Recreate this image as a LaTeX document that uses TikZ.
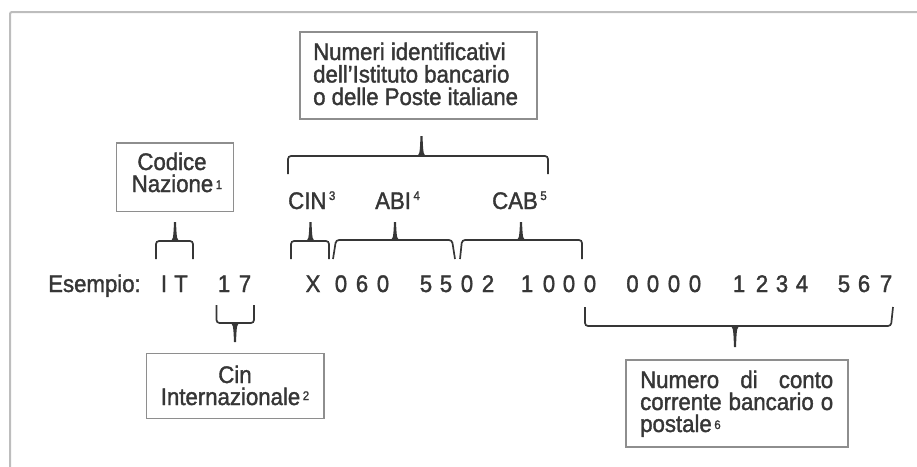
\documentclass[tikz,border=0pt]{standalone}
\usepackage{fontspec}
\setmainfont{Liberation Sans}[FakeStretch=0.925,FakeBold=1.5]
\definecolor{ink}{HTML}{363636}
\definecolor{framec}{HTML}{BDBDBD}
\definecolor{boxline}{HTML}{8E8E8E}
\newcommand\supn[2]{\hspace{2.5pt}\raisebox{#1pt}{\fontsize{12.5}{12.5}\selectfont #2}}
% brace: x1bottom, x1top, x2top, x2bottom, px, yend, yh, ypeak
\newcommand\ubrace[8]{%
  \draw[bracepath] (#1,#6) -- (#2,#7) -- (#3,#7) -- (#4,#6);
  \fill[ink] (#5-6,#7+0.7) .. controls (#5-1.8,#7-1) .. (#5-1,#8) -- (#5+1,#8) .. controls (#5+1.8,#7-1) .. (#5+6,#7+0.7) -- cycle;}
\newcommand\dbrace[8]{%
  \draw[bracepath] (#1,#6) -- (#2,#7) -- (#3,#7) -- (#4,#6);
  \fill[ink] (#5-6,#7-0.7) .. controls (#5-1.8,#7+1) .. (#5-1,#8) -- (#5+1,#8) .. controls (#5+1.8,#7+1) .. (#5+6,#7-0.7) -- cycle;}
\tikzset{
  lbl/.style={font=\fontsize{24}{22.5}\selectfont, text=ink, inner sep=0pt, anchor=base},
  infobox/.style={draw=boxline, line width=1.2pt, inner sep=0pt, rectangle},
  bracepath/.style={draw=ink, line width=1.7pt, rounded corners=3pt},
  framestyle/.style={draw=framec, line width=2pt, rounded corners=2pt},
}
\begin{document}
\begin{tikzpicture}[x=1pt,y=-1pt]
\useasboundingbox (0,0) rectangle (917,466);
\draw[framestyle] (10,470) -- (10,12) -- (921,12);

% top box
\node[infobox, minimum width=237pt, minimum height=87pt] (idbox) at (418.5,75.5) {};
\node[lbl, anchor=base west] (id1) at (313,60) {Numeri identificativi};
\node[lbl, anchor=base west] (id2) at (313,82.5) {dell'Istituto bancario};
\node[lbl, anchor=base west] (id3) at (313,105) {o delle Poste italiane};
\ubrace{288}{288}{548}{548}{421.5}{174}{156}{136}

% Codice Nazione
\node[infobox, minimum width=117.5pt, minimum height=68.5pt] (cnbox) at (175,177.3) {};
\node[lbl] (cn1) at (172,170) {Codice};
\node[lbl] (cn2) at (177,192) {Nazione\supn{3}{1}};

% CIN ABI CAB
\node[lbl, anchor=base west] (cin) at (288,209) {CIN\supn{9}{3}};
\node[lbl, anchor=base west] (abi) at (375,209) {ABI\supn{9}{4}};
\node[lbl, anchor=base west] (cab) at (492,209) {CAB\supn{9}{5}};

\ubrace{156}{156}{193}{193}{175}{259}{241}{222}
\ubrace{291}{291}{329}{329}{310.5}{259}{241}{222}
\ubrace{333}{336}{452}{455}{395}{259}{240}{222}
\ubrace{460}{462}{582}{582}{521}{259}{240}{222}

% example line
\node[lbl, anchor=base west] (es) at (48,292) {Esempio:};
\foreach \xx/\ch [count=\i] in {164/I,181/T,224/1,245/7,313/X,341/0,362/6,383/0,426/5,446/5,467/0,488/2,527/1,549/0,569/0,590/0,632.5/0,653/0,674/0,695/0,739/1,762/2,782/3,802/4,844/5,864/6,886/7}
  \node[lbl] (c\i) at (\xx,292) {\ch};

% 17 brace and Cin box
\dbrace{216.5}{216.5}{254}{254}{235}{305}{323}{342}
\node[infobox, minimum width=177.3pt, minimum height=65pt] (cibox) at (235.3,385.8) {};
\node[lbl] (ci1) at (235,383) {Cin};
\node[lbl] (ci2) at (235,405) {Internazionale\supn{5}{2}};

% account brace and box
\dbrace{585}{585}{891}{893}{735}{307}{326}{347}
\node[infobox, minimum width=222pt, minimum height=87pt] (nubox) at (737,403.5) {};
\node[lbl, anchor=base west] (nu1) at (640,388) {\makebox[193pt][s]{Numero di conto}};
\node[lbl, anchor=base west] (nu2) at (640,410) {\makebox[193pt][s]{corrente bancario o}};
\node[lbl, anchor=base west] (nu3) at (640,432) {postale\supn{3}{6}};
\end{tikzpicture}
\end{document}
